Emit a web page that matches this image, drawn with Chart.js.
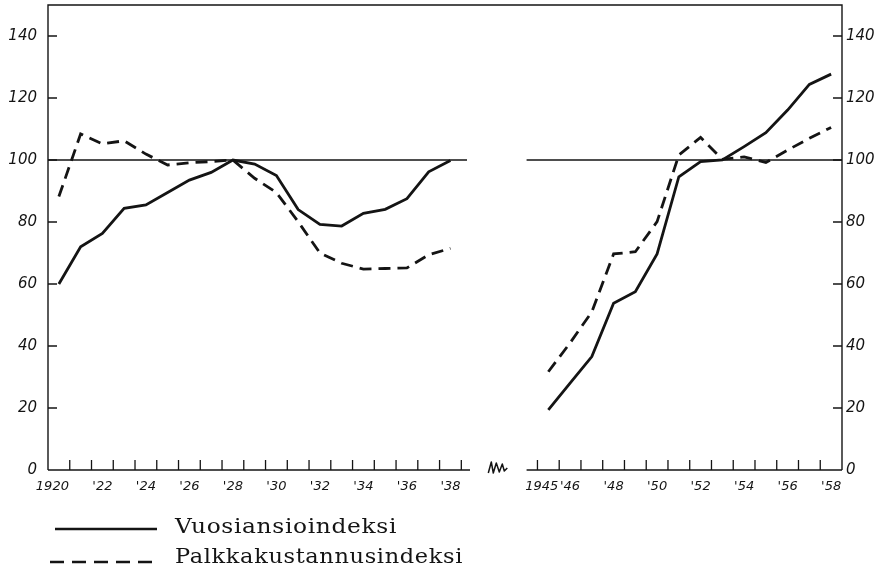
<!DOCTYPE html>
<html>
<head>
<meta charset="utf-8">
<script src="https://cdn.jsdelivr.net/npm/chart.js@4/dist/chart.umd.min.js"></script>
<style>
  html, body { margin: 0; padding: 0; background: #fff; }
  canvas { display: block; }
</style>
</head>
<body>
<canvas id="indexChart" width="884" height="576"></canvas>
<script>
// years, before and after the war
const yearsA = [1920, 1921, 1922, 1923, 1924, 1925, 1926, 1927, 1928, 1929,
                1930, 1931, 1932, 1933, 1934, 1935, 1936, 1937, 1938];
const yearsB = [1945, 1946, 1947, 1948, 1949, 1950, 1951, 1952, 1953, 1954,
                1955, 1956, 1957, 1958];

// Vuosiansioindeksi (solid)
const earningsA = [60, 72, 76.3, 84.4, 85.5, 89.5, 93.5, 96, 100, 98.7,
                   95, 84, 79.2, 78.7, 82.8, 84.1, 87.5, 96.2, 99.8];
const earningsB = [19.4, 28, 36.6, 53.8, 57.5, 69.7, 94.6, 99.5, 100, 104.3,
                   108.8, 116.1, 124.4, 127.7];

// Palkkakustannusindeksi (dashed)
const costsA = [88.2, 108.4, 105.2, 106.2, 101.9, 98.4, 99.1, 99.5, 100, 94.1,
                89.5, 80.1, 70, 66.7, 64.8, 65, 65.2, 69.4, 71.5];
const costsB = [31.7, 41, 51, 69.7, 70.4, 80.1, 101.6, 107.3, 100.2, 101,
                99.2, 103.2, 107, 110.5];

// tick labels
const xTickYears = [1920, 1922, 1924, 1926, 1928, 1930, 1932, 1934, 1936, 1938,
                    1945, 1946, 1948, 1950, 1952, 1954, 1956, 1958];
const xTickLabels = ['1920', "'22", "'24", "'26", "'28", "'30", "'32", "'34", "'36", "'38",
                     '1945', "'46", "'48", "'50", "'52", "'54", "'56", "'58"];
const yTickValues = [0, 20, 40, 60, 80, 100, 120, 140];
const seriesLabels = ['Vuosiansioindeksi', 'Palkkakustannusindeksi'];

// the war years are squeezed out of the time axis
const pos = (year) => year > 1940 ? year - 2.5 : year;

const toPoints = (valsA, valsB) => [
    ...yearsA.map((yr, i) => ({ x: pos(yr), y: valsA[i] })),
    { x: 1941, y: null },
    ...yearsB.map((yr, i) => ({ x: pos(yr), y: valsB[i] }))
];

const INK = '#141414';
const tickFont = { family: 'DejaVu Sans', size: 15, style: 'italic' };

// frame, broken base line, inward ticks, the 100 line
const framePlugin = {
    id: 'frame',
    beforeDatasetsDraw(chart) {
        const { ctx, chartArea: a, scales } = chart;
        const x = scales.x, y = scales.y;
        const y100 = y.getPixelForValue(100);
        const leftEnd = x.getPixelForValue(1938.9);
        const rightStart = x.getPixelForValue(pos(1944));
        ctx.save();
        ctx.strokeStyle = INK;
        ctx.lineCap = 'butt';

        ctx.lineWidth = 1.4;
        ctx.beginPath();
        ctx.moveTo(a.left, a.bottom);
        ctx.lineTo(a.left, a.top);
        ctx.lineTo(a.right, a.top);
        ctx.lineTo(a.right, a.bottom);
        ctx.moveTo(a.left, a.bottom);
        ctx.lineTo(leftEnd, a.bottom);
        ctx.moveTo(rightStart, a.bottom);
        ctx.lineTo(a.right, a.bottom);
        ctx.stroke();

        ctx.lineWidth = 1.3;
        ctx.beginPath();
        ctx.moveTo(a.left, y100);
        ctx.lineTo(leftEnd - 3, y100);
        ctx.moveTo(rightStart, y100);
        ctx.lineTo(a.right, y100);
        ctx.stroke();

        // y ticks pointing inward
        ctx.beginPath();
        yTickValues.forEach(v => {
            if (v === 0) return;
            const py = y.getPixelForValue(v);
            ctx.moveTo(a.left, py);
            ctx.lineTo(a.left + 9, py);
            ctx.moveTo(a.right, py);
            ctx.lineTo(a.right - 9, py);
        });
        // x ticks between years
        const halfYears = [...yearsA.map(v => v + 0.5), ...yearsB.map(v => v - 0.5)];
        halfYears.forEach(v => {
            const px = x.getPixelForValue(pos(v));
            ctx.moveTo(px, a.bottom);
            ctx.lineTo(px, a.bottom - 10);
        });
        ctx.stroke();

        // break mark between the periods
        const bx = (leftEnd + rightStart) / 2 - 10;
        const by = a.bottom;
        ctx.lineWidth = 1.5;
        ctx.lineJoin = 'round';
        ctx.beginPath();
        ctx.moveTo(bx, by + 3);
        ctx.lineTo(bx + 3, by - 8);
        ctx.lineTo(bx + 5, by + 3);
        ctx.lineTo(bx + 8, by - 7);
        ctx.lineTo(bx + 11, by + 2);
        ctx.lineTo(bx + 14, by - 6);
        ctx.lineTo(bx + 16, by + 1);
        ctx.lineTo(bx + 19, by - 2);
        ctx.stroke();
        ctx.restore();
    }
};

// legend: sample line + serif label, stacked
const legendPlugin = {
    id: 'stackLegend',
    afterDraw(chart) {
        const { ctx } = chart;
        const rows = [
            { ds: chart.data.datasets[0], x0: 55, y: 529, tx: 175, ty: 533, width: 222 },
            { ds: chart.data.datasets[1], x0: 50, y: 562, tx: 175, ty: 563, width: 288 }
        ];
        rows.forEach(r => {
            ctx.save();
            ctx.strokeStyle = INK;
            ctx.lineWidth = 2.6;
            ctx.setLineDash(r.ds.borderDash ? [14, 8] : []);
            ctx.beginPath();
            ctx.moveTo(r.x0, r.y);
            ctx.lineTo(157, r.y);
            ctx.stroke();
            ctx.setLineDash([]);

            // wide schoolbook face: stretch a serif to the printed width
            ctx.font = '21px "DejaVu Serif"';
            ctx.fillStyle = INK;
            ctx.textBaseline = 'alphabetic';
            ctx.letterSpacing = '0.6px';
            const text = r.ds.label;
            const w = ctx.measureText(text).width;
            ctx.translate(r.tx, r.ty);
            ctx.scale(r.width / w, 1);
            ctx.fillText(text, 0, 0);
            ctx.restore();
        });
    }
};

const yAxis = (side, width, padding) => ({
    position: side,
    min: 0,
    max: 150,
    grid: { display: false, drawTicks: false },
    border: { display: false },
    afterBuildTicks: (scale) => { scale.ticks = yTickValues.map(v => ({ value: v })); },
    afterFit: (scale) => {
        scale.width = width;
        scale.paddingTop = 0;
        scale.paddingBottom = 0;
    },
    ticks: { padding: padding, color: INK, font: tickFont }
});

const chart = new Chart(document.getElementById('indexChart').getContext('2d'), {
    type: 'line',
    data: {
        datasets: [{
            label: seriesLabels[0],
            data: toPoints(earningsA, earningsB),
            borderColor: INK,
            borderWidth: 2.8,
            pointRadius: 0,
            tension: 0,
            spanGaps: false,
            yAxisID: 'y'
        }, {
            label: seriesLabels[1],
            data: toPoints(costsA, costsB),
            borderColor: INK,
            borderWidth: 2.8,
            borderDash: [12, 7],
            pointRadius: 0,
            tension: 0,
            spanGaps: false,
            yAxisID: 'y'
        }]
    },
    options: {
        responsive: false,
        animation: false,
        layout: { padding: { top: 5, bottom: 81, left: 0, right: 0 } },
        plugins: { legend: { display: false }, tooltip: { enabled: false } },
        scales: {
            x: {
                type: 'linear',
                min: 1919.5,
                max: 1956,
                grid: { display: false, drawTicks: false },
                border: { display: false },
                afterBuildTicks: (scale) => { scale.ticks = xTickYears.map(v => ({ value: pos(v) })); },
                afterFit: (scale) => {
                    scale.height = 25;
                    scale.paddingLeft = 0;
                    scale.paddingRight = 0;
                },
                ticks: {
                    autoSkip: false,
                    maxRotation: 0,
                    padding: 9,
                    color: INK,
                    font: { family: 'DejaVu Sans', size: 13, style: 'italic' },
                    // full years sit a little left of their point, as in the print
                    callback: (value, i) => xTickLabels[i].length === 4 ? xTickLabels[i] + '\u2003' : xTickLabels[i]
                }
            },
            y: yAxis('left', 48, 11),
            y2: yAxis('right', 42, 4)
        }
    },
    plugins: [framePlugin, legendPlugin]
});
</script>
</body>
</html>
